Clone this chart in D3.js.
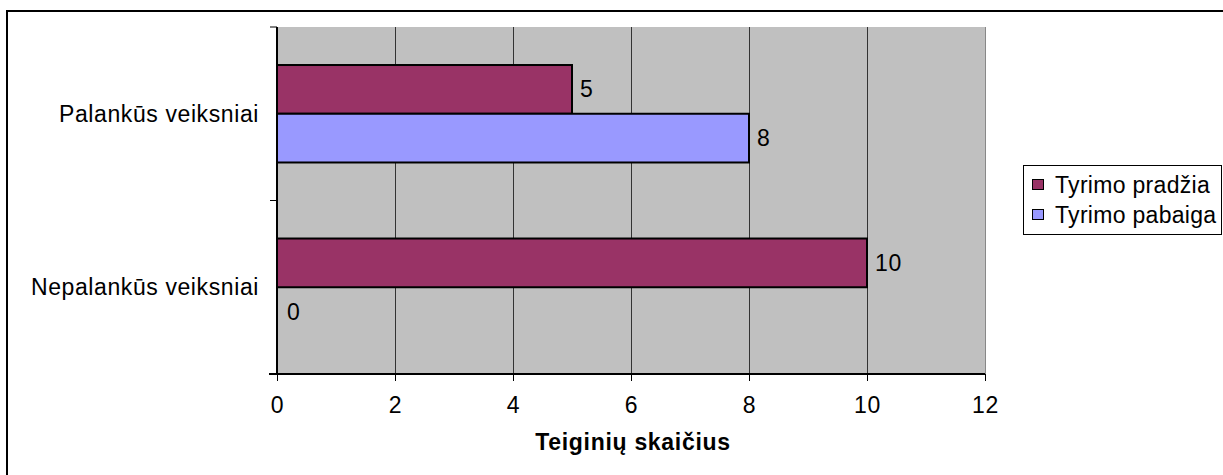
<!DOCTYPE html>
<html>
<head>
<meta charset="utf-8">
<script src="https://cdn.jsdelivr.net/npm/d3@7"></script>
<style>
  html, body { margin: 0; padding: 0; background: #fff; }
  svg { display: block; font-family: "Liberation Sans", Arial, sans-serif; }
  svg text { letter-spacing: 0.6px; }
</style>
</head>
<body>
<svg id="chart" width="1223" height="475"></svg>
<script>
// Categories (top to bottom) and series
const categories = ["Palankūs veiksniai", "Nepalankūs veiksniai"];
const seriesNames = ["Tyrimo pradžia", "Tyrimo pabaiga"];
const seriesColors = ["#993366", "#9999FF"];
// Values per series, in category order
const pradzia = [5, 10];
const pabaiga = [8, 0];
const xTicks = [0, 2, 4, 6, 8, 10, 12];
const xTitle = "Teiginių skaičius";

const seriesValues = [pradzia, pabaiga];
const rows = [];
categories.forEach((c, ci) => {
  seriesNames.forEach((s, si) => rows.push({ cat: c, series: s, si, value: seriesValues[si][ci] }));
});

const FS = 23;
const svg = d3.select("#chart");
const plot = { left: 277, right: 985, top: 27, bottom: 374 };

// Outer chart frame
svg.append("rect")
  .attr("x", 7).attr("y", 11).attr("width", 1240).attr("height", 500)
  .attr("fill", "none").attr("stroke", "#000").attr("stroke-width", 2);

const x = d3.scaleLinear().domain([0, 12]).range([plot.left, plot.right]);
const y0 = d3.scaleBand().domain(categories).range([plot.top, plot.bottom]).padding(0);
const y1 = d3.scaleBand().domain(seriesNames).range([0, y0.bandwidth()])
  .paddingInner(0).paddingOuter(0.78);

// Plot background
svg.append("rect")
  .attr("x", plot.left).attr("y", plot.top)
  .attr("width", plot.right - plot.left).attr("height", plot.bottom - plot.top)
  .attr("fill", "#C0C0C0");

// Vertical gridlines
svg.append("g").selectAll("line")
  .data(xTicks.filter(t => t > 0 && t < 12))
  .join("line")
  .attr("x1", d => Math.round(x(d)) + 0.5).attr("x2", d => Math.round(x(d)) + 0.5)
  .attr("y1", plot.top).attr("y2", plot.bottom)
  .attr("stroke", "#333").attr("stroke-width", 1);
svg.append("line")
  .attr("x1", plot.right + 0.5).attr("x2", plot.right + 0.5)
  .attr("y1", plot.top).attr("y2", plot.bottom)
  .attr("stroke", "#888").attr("stroke-width", 1);

// Bars
const groups = svg.append("g").selectAll("g")
  .data(rows)
  .join("g")
  .attr("transform", d => `translate(0,${y0(d.cat) + y1(d.series)})`);

groups.filter(d => d.value > 0).append("rect")
  .attr("x", x(0))
  .attr("y", 0)
  .attr("width", d => x(d.value) - x(0))
  .attr("height", y1.bandwidth())
  .attr("fill", d => seriesColors[d.si])
  .attr("stroke", "#000").attr("stroke-width", 2);

// Value labels
groups.append("text")
  .attr("x", d => x(d.value) + (d.value > 0 ? 8 : 10))
  .attr("y", y1.bandwidth() / 2)
  .attr("dy", "0.35em")
  .attr("font-size", FS)
  .attr("fill", "#000")
  .text(d => d.value);

// X axis
const xAxis = svg.append("g")
  .attr("transform", `translate(0,${plot.bottom})`)
  .call(d3.axisBottom(x).tickValues(xTicks).tickSize(7).tickPadding(16).tickSizeOuter(0));
xAxis.select(".domain").attr("stroke", "#000").attr("stroke-width", 2)
  .attr("d", `M${plot.left - 8},0H${plot.right}`);
xAxis.selectAll(".tick line").attr("stroke", "#000");
xAxis.selectAll(".tick text").attr("font-size", FS).attr("fill", "#000")
  .attr("font-family", "'Liberation Sans', Arial, sans-serif");

// Y axis with boundary ticks
const yAxisG = svg.append("g").attr("transform", `translate(${plot.left},0)`);
yAxisG.append("line")
  .attr("x1", 0).attr("x2", 0).attr("y1", plot.top).attr("y2", plot.bottom)
  .attr("stroke", "#000").attr("stroke-width", 2);
const boundaries = categories.map(c => y0(c)).concat([plot.bottom]);
yAxisG.selectAll("line.t").data(boundaries).join("line")
  .attr("class", "t")
  .attr("x1", -7).attr("x2", 0)
  .attr("y1", d => d).attr("y2", d => d)
  .attr("stroke", "#000").attr("stroke-width", 1);
yAxisG.selectAll("text").data(categories).join("text")
  .attr("x", -18)
  .attr("y", d => y0(d) + y0.bandwidth() / 2)
  .attr("dy", "0.35em")
  .attr("text-anchor", "end")
  .attr("font-size", FS)
  .attr("fill", "#000")
  .text(d => d);

// Axis title
svg.append("text")
  .attr("x", 633)
  .attr("y", 450)
  .attr("text-anchor", "middle")
  .attr("font-size", FS)
  .attr("font-weight", "bold")
  .style("letter-spacing", "0.7px")
  .attr("fill", "#000")
  .text(xTitle);

// Legend
const legend = svg.append("g").attr("transform", "translate(1023,165)");
legend.append("rect")
  .attr("x", 0.5).attr("y", 0.5).attr("width", 198).attr("height", 69)
  .attr("fill", "#fff").attr("stroke", "#000").attr("stroke-width", 1);
const items = legend.selectAll("g.item").data(seriesNames).join("g")
  .attr("class", "item")
  .attr("transform", (d, i) => `translate(0,${19 + i * 30})`);
items.append("rect")
  .attr("x", 9.5).attr("y", -4.5).attr("width", 11).attr("height", 10)
  .attr("fill", (d, i) => seriesColors[i]).attr("stroke", "#000").attr("stroke-width", 1);
items.append("text")
  .attr("x", 32).attr("y", 1).attr("dy", "0.35em")
  .attr("font-size", FS).attr("fill", "#000")
  .style("letter-spacing", "0.3px")
  .text(d => d);
</script>
</body>
</html>
